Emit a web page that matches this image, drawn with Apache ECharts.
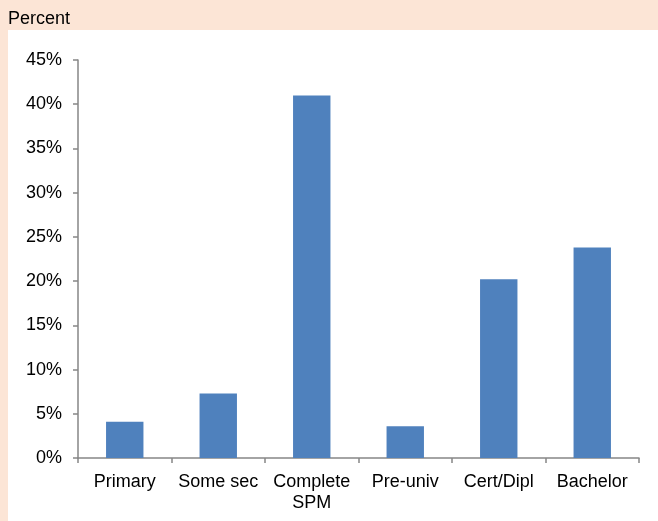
<!DOCTYPE html>
<html lang="en">
<head>
    <meta charset="UTF-8">
    <title>Percent</title>
    <script src="https://cdn.jsdelivr.net/npm/echarts@6/dist/echarts.min.js"></script>
    <style>
        html, body { margin: 0; padding: 0; background: #fce5d6; }
        #chart { width: 658px; height: 521px; }
    </style>
</head>
<body>
<div id="chart"></div>
<script>
    var categories = ['Primary', 'Some sec', 'Complete\nSPM', 'Pre-univ', 'Cert/Dipl', 'Bachelor'];
    var values = [4.1, 7.3, 41.0, 3.6, 20.2, 23.8];
    var yTicks = [0, 5, 10, 15, 20, 25, 30, 35, 40, 45];

    var font = '"Liberation Sans", Arial, sans-serif';
    var chart = echarts.init(document.getElementById('chart'));
    chart.setOption({
        backgroundColor: '#fce5d6',
        animation: false,
        graphic: [
            { type: 'rect', shape: { x: 8, y: 30, width: 650, height: 491 }, style: { fill: '#ffffff' }, z: -10 },
            { type: 'text', x: 8, y: 10, style: { text: 'Percent', font: '18px ' + font, fill: '#000' } }
        ],
        grid: { left: 78, right: 19, top: 60, bottom: 63, containLabel: false },
        xAxis: {
            type: 'category',
            data: categories,
            axisLine: { lineStyle: { color: '#868686', width: 1.5 } },
            axisTick: { show: true, length: 5, lineStyle: { color: '#868686', width: 1.5 } },
            axisLabel: { color: '#000', fontSize: 18, fontFamily: font, margin: 14, lineHeight: 21, interval: 0 }
        },
        yAxis: {
            type: 'value',
            min: yTicks[0],
            max: yTicks[yTicks.length - 1],
            interval: 5,
            splitLine: { show: false },
            axisLine: { show: true, lineStyle: { color: '#868686', width: 1.5 } },
            axisTick: { show: true, length: 5, lineStyle: { color: '#868686', width: 1.5 } },
            axisLabel: { color: '#000', fontSize: 18, fontFamily: font, margin: 16, formatter: '{value}%' }
        },
        series: [{
            type: 'bar',
            data: values,
            barWidth: '40%',
            itemStyle: { color: '#4f81bd' }
        }]
    });
</script>
</body>
</html>
